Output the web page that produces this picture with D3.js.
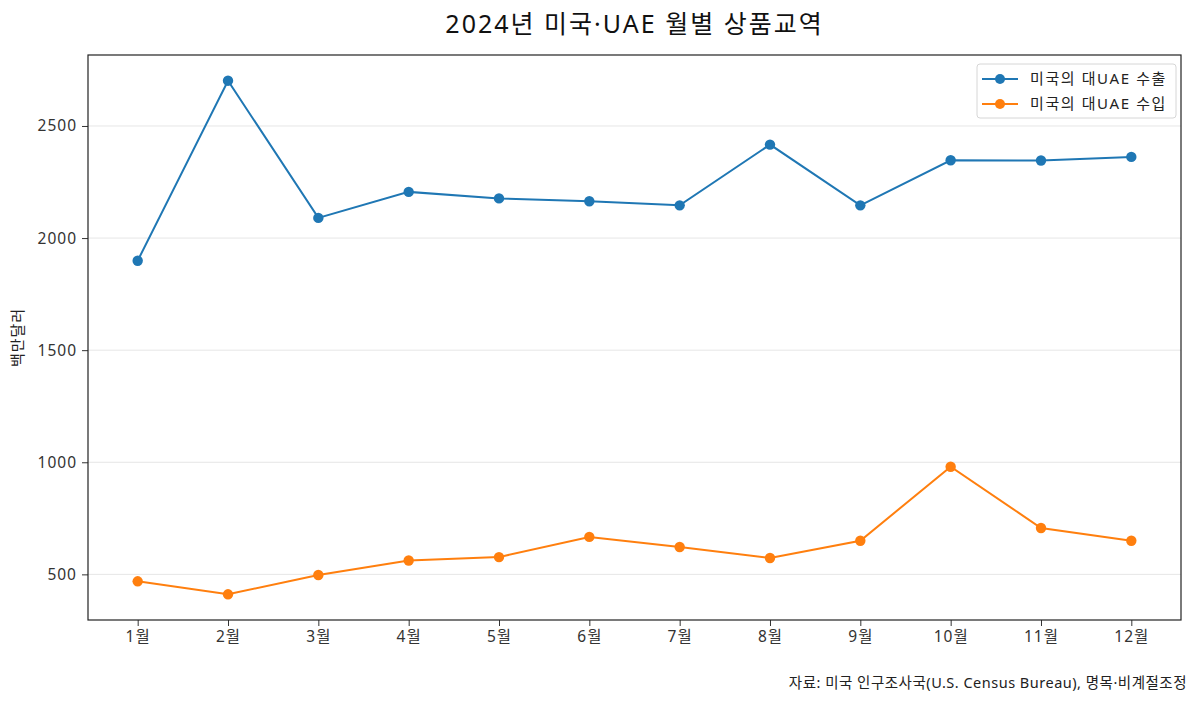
<!DOCTYPE html>
<html>
<head>
<meta charset="utf-8">
<script src="https://cdn.jsdelivr.net/npm/d3@7"></script>
<style>
  body { margin: 0; background: #fff; }
  svg { display: block; font-family: "Noto Sans", "Noto Sans CJK KR", sans-serif; }
</style>
</head>
<body>
<div id="chart"></div>
<script>
// 월 라벨
const months = ['1월', '2월', '3월', '4월', '5월', '6월', '7월', '8월', '9월', '10월', '11월', '12월'];
// 미국의 대UAE 수출 (백만달러)
const exportsUAE = [1899, 2702, 2090, 2206, 2177, 2164, 2146, 2417, 2146, 2347, 2346, 2362];
// 미국의 대UAE 수입 (백만달러)
const importsUAE = [469, 411, 497, 562, 577, 667, 622, 573, 650, 980, 707, 650];
const yTicks = [500, 1000, 1500, 2000, 2500];

const series = [
  { name: '미국의 대UAE 수출', values: exportsUAE, color: '#1f77b4' },
  { name: '미국의 대UAE 수입', values: importsUAE, color: '#ff7f0e' }
];

const W = 1200, H = 701;
const margin = { top: 55, right: 19, bottom: 81, left: 88 };
const w = W - margin.left - margin.right;
const h = H - margin.top - margin.bottom;

const svg = d3.select('#chart').append('svg')
  .attr('width', W).attr('height', H);

// matplotlib-like 5% margins
const x = d3.scaleLinear().domain([-0.55, months.length - 1 + 0.55]).range([0, w]);
const all = exportsUAE.concat(importsUAE);
const [ymin, ymax] = d3.extent(all);
const pad = (ymax - ymin) * 0.05;
const y = d3.scaleLinear().domain([ymin - pad, ymax + pad]).range([h, 0]);

const g = svg.append('g').attr('transform', `translate(${margin.left},${margin.top})`);

// grid
g.append('g').selectAll('line').data(yTicks).join('line')
  .attr('x1', 0).attr('x2', w)
  .attr('y1', d => y(d)).attr('y2', d => y(d))
  .attr('stroke', '#e6e6e6').attr('stroke-width', 1);

// axes
const xAxis = g.append('g').attr('transform', `translate(0,${h})`)
  .call(d3.axisBottom(x).tickValues(d3.range(months.length)).tickFormat(i => months[i]).tickSize(6).tickPadding(5));
const yAxis = g.append('g')
  .call(d3.axisLeft(y).tickValues(yTicks).tickFormat(d3.format('d')).tickSize(6).tickPadding(5));
[xAxis, yAxis].forEach(a => {
  a.select('.domain').remove();
  a.selectAll('line').attr('stroke', '#333');
  a.selectAll('text').attr('font-size', 15.5).attr('fill', '#333')
    .attr('letter-spacing', 1)
    .attr('font-family', '"Noto Sans", "Noto Sans CJK KR", sans-serif');
});

// lines + markers
const line = d3.line().x((d, i) => x(i)).y(d => y(d));
series.forEach(s => {
  g.append('path').datum(s.values)
    .attr('fill', 'none').attr('stroke', s.color).attr('stroke-width', 2)
    .attr('d', line);
  g.append('g').selectAll('circle').data(s.values).join('circle')
    .attr('cx', (d, i) => x(i)).attr('cy', d => y(d)).attr('r', 5.2)
    .attr('fill', s.color);
});

// frame
g.append('rect').attr('width', w).attr('height', h)
  .attr('fill', 'none').attr('stroke', '#222').attr('stroke-width', 1.2);

// legend
const lg = g.append('g').attr('transform', `translate(${w - 204},${9})`);
lg.append('rect').attr('width', 199).attr('height', 54).attr('rx', 3)
  .attr('fill', '#fff').attr('fill-opacity', 0.8).attr('stroke', '#d6d6d6');
series.forEach((s, i) => {
  const yy = 15 + i * 25;
  lg.append('line').attr('x1', 5).attr('x2', 41).attr('y1', yy).attr('y2', yy)
    .attr('stroke', s.color).attr('stroke-width', 2);
  lg.append('circle').attr('cx', 23).attr('cy', yy).attr('r', 5).attr('fill', s.color);
  lg.append('text').attr('x', 53).attr('y', yy).attr('dy', '0.35em')
    .attr('font-size', 15).attr('letter-spacing', 1.6).attr('fill', '#222').text(s.name);
});

// title
svg.append('text').attr('x', margin.left + w / 2).attr('y', 33)
  .attr('text-anchor', 'middle').attr('font-size', 25).attr('letter-spacing', 2)
  .attr('fill', '#111')
  .text('2024년 미국·UAE 월별 상품교역');

// y label
svg.append('text').attr('transform', `translate(23,${margin.top + h / 2}) rotate(-90)`)
  .attr('text-anchor', 'middle').attr('font-size', 15).attr('letter-spacing', 1)
  .attr('fill', '#222')
  .text('백만달러');

// source
svg.append('text').attr('x', 1187).attr('y', 688)
  .attr('text-anchor', 'end').attr('font-size', 14.5).attr('letter-spacing', 0.5)
  .attr('fill', '#222')
  .text('자료: 미국 인구조사국(U.S. Census Bureau), 명목·비계절조정');
</script>
</body>
</html>
